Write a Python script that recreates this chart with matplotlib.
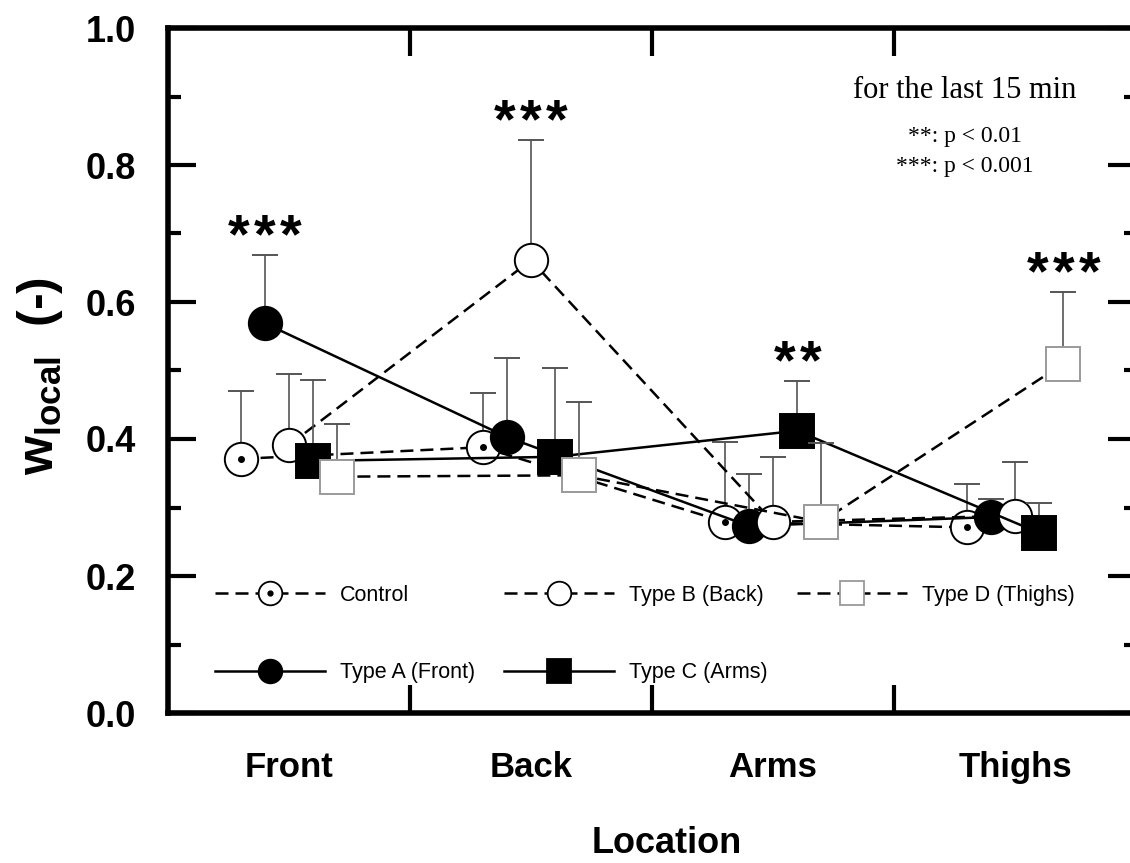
import numpy as np
import matplotlib
matplotlib.use("Agg")
import matplotlib.pyplot as plt
from matplotlib.ticker import MultipleLocator, FixedLocator
from matplotlib.lines import Line2D

plt.rcParams['font.family'] = ['Liberation Sans', 'DejaVu Sans']
plt.rcParams['mathtext.fontset'] = 'custom'
plt.rcParams['mathtext.rm'] = 'Liberation Sans'
plt.rcParams['mathtext.bf'] = 'Liberation Sans:bold'

# data (mean and upper SD)
locations = ['Front', 'Back', 'Arms', 'Thighs']
groups = ['Control', 'Type A (Front)', 'Type B (Back)', 'Type C (Arms)', 'Type D (Thighs)']

control = [0.371, 0.388, 0.279, 0.271]
control_sd = [0.099, 0.079, 0.117, 0.063]
type_a = [0.569, 0.403, 0.273, 0.286]
type_a_sd = [0.100, 0.115, 0.076, 0.027]
type_b = [0.391, 0.661, 0.279, 0.288]
type_b_sd = [0.104, 0.175, 0.095, 0.079]
type_c = [0.368, 0.374, 0.412, 0.263]
type_c_sd = [0.118, 0.130, 0.073, 0.044]
type_d = [0.345, 0.347, 0.279, 0.510]
type_d_sd = [0.077, 0.107, 0.115, 0.104]

# significance marks: which group is marked at each location
stars = ['***', '***', '**', '***']
star_group = [1, 2, 3, 4]

means = [control, type_a, type_b, type_c, type_d]
sds = [control_sd, type_a_sd, type_b_sd, type_c_sd, type_d_sd]

# styles
offsets = [-0.2, -0.1, 0.0, 0.1, 0.2]
markers = ['o', 'o', 'o', 's', 's']
faces = ['white', 'black', 'white', 'black', 'white']
edges = ['black', 'black', 'black', 'black', '#9a9a9a']
dashed = (0, (5.2, 2.8))
styles = [dashed, '-', dashed, '-', dashed]

fig = plt.figure(figsize=(11.3, 8.63), dpi=100)
ax = fig.add_axes([168 / 1130, 150 / 863, 968 / 1130, 685 / 863])

xbase = np.arange(len(locations))
for i in range(len(groups)):
    x = xbase + offsets[i]
    y = np.array(means[i])
    up = np.array(sds[i])
    ax.errorbar(x, y, yerr=[np.zeros_like(up), up], color='black', lw=1.8,
                ls=styles[i], marker=markers[i], ms=24, mfc=faces[i], mec=edges[i],
                mew=1.4, ecolor='#555555', elinewidth=1.2, capsize=9.5, capthick=1.4,
                zorder=3 + i)
    if i == 0:
        # centre dot of the control symbol
        ax.plot(x, y, ls='none', marker='o', ms=4, color='black', zorder=3.5)

# asterisks above the error bars, one glyph at a time so they sit apart
for j, s in enumerate(stars):
    g = star_group[j]
    top = means[g][j] + sds[g][j]
    n = len(s)
    for k in range(n):
        ax.annotate('*', (j + offsets[g], top + 0.004), xytext=((k - (n - 1) / 2) * 18.7, 0),
                    textcoords='offset points', ha='center', va='baseline',
                    fontsize=40, fontweight='bold', zorder=10)

ax.set_xlim(-0.5, 3.5)
ax.set_ylim(0, 1.0)

ax.xaxis.set_major_locator(FixedLocator([0.5, 1.5, 2.5]))
ax.xaxis.set_major_formatter(plt.NullFormatter())
ax.xaxis.set_minor_locator(FixedLocator(xbase))
ax.set_xticklabels(locations, minor=True)
ax.yaxis.set_major_locator(MultipleLocator(0.2))
ax.yaxis.set_minor_locator(MultipleLocator(0.1))
ax.yaxis.set_major_formatter(plt.FormatStrFormatter('%.1f'))

ax.tick_params(axis='x', which='major', direction='in', length=20, width=3,
               top=True, bottom=True)
ax.tick_params(axis='x', which='minor', length=0, pad=27, labelsize=25)
ax.tick_params(axis='y', which='major', direction='in', length=20, width=3,
               left=True, right=True, pad=23, labelsize=26)
ax.tick_params(axis='y', which='minor', direction='in', length=9, width=3,
               left=True, right=True)
for lab in ax.get_xticklabels(minor=True) + ax.get_yticklabels():
    lab.set_fontweight('bold')
for sp in ax.spines.values():
    sp.set_linewidth(4)

# legend
handles = []
for i in range(len(groups)):
    h = Line2D([], [], color='black', lw=1.8, ls=styles[i], marker=markers[i], ms=17,
               mfc=faces[i], mec=edges[i], mew=1.3)
    if i == 0:
        dot = Line2D([], [], ls='none', marker='o', ms=3.5, color='black')
        h = (h, dot)
    handles.append(h)
ax.legend(handles, groups, ncol=3, loc='upper left', bbox_to_anchor=(0.049, 0.187),
          frameon=False, fontsize=15.5, handlelength=5.1, handletextpad=0.7,
          columnspacing=1.35, labelspacing=2.62, borderpad=0, borderaxespad=0)

# note in the upper right
fig.text(965 / 1130, 1 - 98 / 863, 'for the last 15 min', ha='center', va='baseline',
         fontsize=22, family='Liberation Serif')
fig.text(965 / 1130, 1 - 142 / 863, '**: p < 0.01', ha='center', va='baseline',
         fontsize=17, family='Liberation Serif')
fig.text(965 / 1130, 1 - 172 / 863, '***: p < 0.001', ha='center', va='baseline',
         fontsize=17, family='Liberation Serif')

# axis titles
fig.text(40 / 1130, 1 - 376 / 863, r'$\mathbf{w_{local}}$  (-)', rotation=90,
         ha='center', va='center', fontsize=36, fontweight='bold')
fig.text(667 / 1130, 1 - 843 / 863, 'Location', ha='center', va='center',
         fontsize=26, fontweight='bold')

fig.savefig('out.png', dpi=100)
